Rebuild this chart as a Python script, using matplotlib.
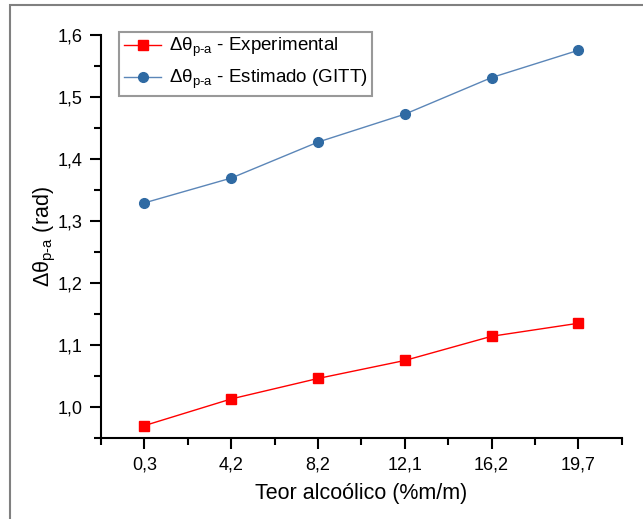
import numpy as np
import matplotlib
matplotlib.use("Agg")
import matplotlib.pyplot as plt
from matplotlib.ticker import MultipleLocator, FuncFormatter
from matplotlib.patches import Rectangle

plt.rcParams['font.family'] = ['Liberation Sans', 'DejaVu Sans']
plt.rcParams['mathtext.fontset'] = 'custom'
plt.rcParams['mathtext.rm'] = 'Liberation Sans'
plt.rcParams['mathtext.it'] = 'Liberation Sans'
plt.rcParams['mathtext.default'] = 'regular'

# teor alcoólico (%m/m) das amostras
teor = ['0,3', '4,2', '8,2', '12,1', '16,2', '19,7']
# Δθ p-a (rad)
experimental = [0.970, 1.013, 1.046, 1.075, 1.114, 1.135]
estimado_gitt = [1.329, 1.369, 1.427, 1.472, 1.531, 1.575]

fig = plt.figure(figsize=(6.43, 5.19), dpi=100)
ax = fig.add_axes([0.157, 0.156, 0.81, 0.777])

# moldura externa
fig.patches.append(Rectangle((0.016, -0.05), 1.2, 1.04, transform=fig.transFigure,
                             fill=False, edgecolor='#808080', linewidth=1.5))

x = np.arange(len(teor))
ax.plot(x, experimental, color='#ff0000', linewidth=1.0, marker='s', markersize=6.5,
        markerfacecolor='#ff0000', markeredgecolor='#ff0000',
        label=r'Δθ$_{\text{p-a}}$ - Experimental')
ax.plot(x, estimado_gitt, color='#5b86b8', linewidth=1.0, marker='o', markersize=7,
        markerfacecolor='#2f6aa3', markeredgecolor='#2f6aa3',
        label=r'Δθ$_{\text{p-a}}$ - Estimado (GITT)')

ax.set_xlim(-0.5, 5.5)
ax.set_ylim(0.95, 1.6)
ax.set_xticks(x)
ax.set_xticklabels(teor)
ax.xaxis.set_minor_locator(MultipleLocator(0.5))
ax.yaxis.set_major_locator(MultipleLocator(0.1))
ax.yaxis.set_minor_locator(MultipleLocator(0.05))
ax.yaxis.set_major_formatter(FuncFormatter(lambda v, p: f'{v:.1f}'.replace('.', ',')))

ax.spines['top'].set_visible(False)
ax.spines['right'].set_visible(False)
for s in ['left', 'bottom']:
    ax.spines[s].set_linewidth(1.5)
ax.tick_params(which='major', direction='out', length=8, width=1.5, labelsize=13, pad=5)
ax.tick_params(which='minor', direction='out', length=5, width=1.5)

ax.set_xlabel('Teor alcoólico (%m/m)', fontsize=15.5, labelpad=7)
ax.set_ylabel(r'Δθ$_{\text{p-a}}$ (rad)', fontsize=15.5, labelpad=0)

leg = ax.legend(loc='upper left', bbox_to_anchor=(0.035, 1.008), fontsize=13.5,
                frameon=True, fancybox=False, handlelength=2.0, handletextpad=0.4,
                borderpad=0.25, labelspacing=0.45, borderaxespad=0)
leg.get_frame().set_edgecolor('#808080')
leg.get_frame().set_linewidth(1.5)

fig.savefig('out.png', dpi=100)
